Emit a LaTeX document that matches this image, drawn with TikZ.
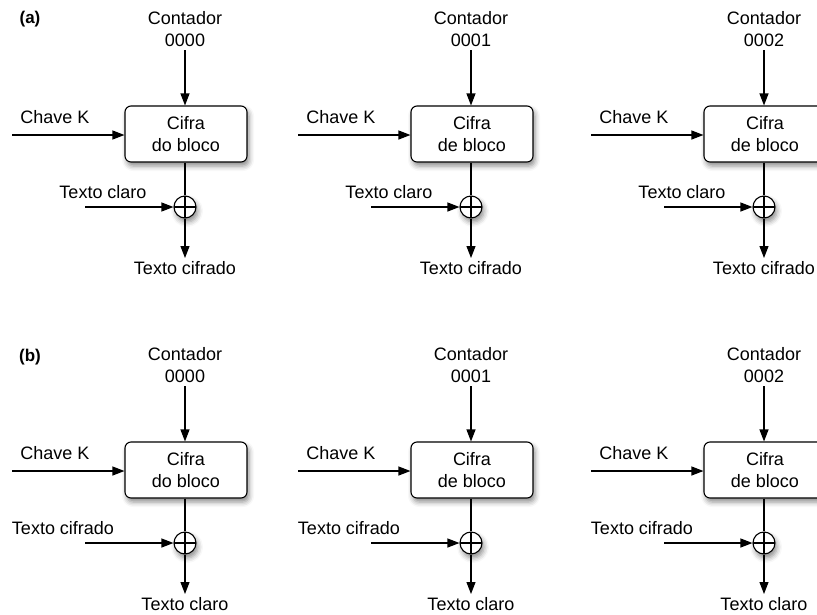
\documentclass[tikz,border=0pt]{standalone}
\usepackage{fontspec}
\setmainfont{Liberation Sans}
\usetikzlibrary{arrows.meta,shadows.blur}

\tikzset{
  txt/.style={font=\fontsize{18}{22}\selectfont, align=center, inner sep=0pt},
  panel/.style={font=\bfseries\fontsize{17}{20}\selectfont, inner sep=0pt},
  softshadow/.style={blur shadow={shadow xshift=2pt, shadow yshift=-4pt,
      shadow blur radius=5pt, shadow opacity=45}},
  cipher/.style={txt, draw, line width=1.1pt, fill=white, rounded corners=6pt,
      minimum width=122pt, minimum height=56pt, softshadow},
  xor/.style={circle, draw, line width=1.1pt, fill=white, minimum size=22pt,
      inner sep=0pt, softshadow,
      path picture={\draw[line width=1.1pt]
        (path picture bounding box.north) -- (path picture bounding box.south)
        (path picture bounding box.west) -- (path picture bounding box.east);}},
  wire/.style={line width=1.1pt},
  flow/.style={wire, -{Triangle[length=12pt,width=9pt]}},
}

% One counter-mode stage:
% #1 name, #2 centre x, #3 row offset, #4 counter value, #5 second line of the
% cipher box, #6 input text, #7 x offset of the input label, #8 output text
\newcommand{\ctrstage}[8]{%
  \node[txt] (#1ctr) at ({#2},{#3+29}) {Contador\\#4};
  \coordinate (#1ctrend) at ({#2},{#3+50});
  \node[cipher] (#1box) at ({#2+1},{#3+134}) {Cifra\\#5};
  \draw[flow] (#1ctrend) -- (#1ctrend |- #1box.north);
  \node[txt] (#1keylbl) at ({#2-130},{#3+117}) {Chave K};
  \coordinate (#1keyin) at ({#2-173},{#3+135});
  \draw[flow] (#1keyin) -- (#1keyin -| #1box.west);
  \node[xor] (#1xor) at ({#2},{#3+207}) {};
  \draw[wire] (#1xor.north |- #1box.south) -- (#1xor.north);
  \node[txt] (#1inlbl) at ({#2+#7},{#3+192}) {#6};
  \coordinate (#1in) at ({#2-100},{#3+207});
  \draw[flow] (#1in) -- (#1xor.west);
  \node[txt] (#1out) at ({#2},{#3+268}) {#8};
  \coordinate (#1outend) at ({#2},{#3+258});
  \draw[flow] (#1xor.south) -- (#1outend);
}

\begin{document}
\begin{tikzpicture}[x=1pt,y=-1pt]
  \useasboundingbox (0,0) rectangle (817,614);

  % (a) encryption
  \node[panel] (pa) at (30,19) {(a)};
  \ctrstage{ea}{185}{0}{0000}{do bloco}{Texto claro}{-82}{Texto cifrado}
  \ctrstage{eb}{471}{0}{0001}{de bloco}{Texto claro}{-82}{Texto cifrado}
  \ctrstage{ec}{764}{0}{0002}{de bloco}{Texto claro}{-82}{Texto cifrado}

  % (b) decryption
  \node[panel] (pb) at (30,357) {(b)};
  \ctrstage{da}{185}{336}{0000}{do bloco}{Texto cifrado}{-122}{Texto claro}
  \ctrstage{db}{471}{336}{0001}{de bloco}{Texto cifrado}{-122}{Texto claro}
  \ctrstage{dc}{764}{336}{0002}{de bloco}{Texto cifrado}{-122}{Texto claro}
\end{tikzpicture}
\end{document}
